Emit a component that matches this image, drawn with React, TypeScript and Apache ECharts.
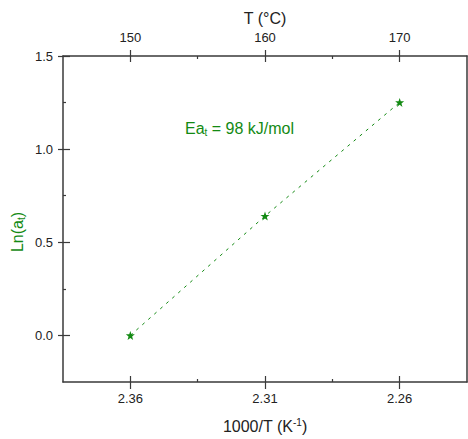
import React, { useEffect, useRef } from "react";
import * as echarts from "echarts";

const invT = [2.36, 2.31, 2.26];
const lnAt = [0.0, 0.641, 1.251];
const xTickLabels = [2.36, 2.31, 2.26];
const xMinorTicks = [2.335, 2.285];
const tTickLabels = [150, 160, 170];
const tMinorTicks = [155, 165];
const yTickLabels = [0, 0.5, 1.0, 1.5];
const yMinorTicks = [0.25, 0.75, 1.25];

const GREEN = "#138a13";
const AXIS = "#3a3a3a";
const TXT = "#222";
const FONT = "'Liberation Sans', Arial, sans-serif";
const STAR =
  "path://M0,-10 L2.35,-3.24 L9.51,-3.09 L3.8,1.24 L5.88,8.09 L0,4 L-5.88,8.09 L-3.8,1.24 L-9.51,-3.09 L-2.35,-3.24 Z";

export default function App() {
  const ref = useRef<HTMLDivElement>(null);
  useEffect(() => {
    if (!ref.current) return;
    const chart = echarts.init(ref.current, null, { renderer: "svg" });
    const xr = { min: 2.235, max: 2.385, inverse: true };
    const tr = { min: 145, max: 175 };
    const yr = { min: -0.25, max: 1.5 };
    const hidden = { show: false };
    const hiddenLine = { show: false, onZero: false };
    const lineStyle = { color: AXIS, width: 1.5 };
    const tickStyle = { color: AXIS, width: 1.2 };
    const labelBase = { color: TXT, fontSize: 13, fontFamily: FONT };
    chart.setOption({
      animation: false,
      grid: { left: 63, right: 1, top: 56, bottom: 56, containLabel: false },
      xAxis: [
        {
          type: "value",
          position: "bottom",
          ...xr,
          axisLine: { show: true, onZero: false, lineStyle },
          axisTick: { show: true, customValues: xTickLabels, length: 7, lineStyle: tickStyle },
          axisLabel: {
            customValues: xTickLabels,
            formatter: (v: number) => v.toFixed(2),
            margin: 10,
            ...labelBase,
          },
          splitLine: hidden,
          name: "1000/T (K{sup|-1})",
          nameLocation: "middle",
          nameGap: 35,
          nameTextStyle: {
            color: TXT,
            fontSize: 16,
            fontFamily: FONT,
            rich: { sup: { fontSize: 10, fontFamily: FONT, color: TXT, padding: [0, 0, 8, 0] } },
          },
        },
        {
          type: "value",
          position: "bottom",
          ...xr,
          axisLine: hiddenLine,
          axisTick: { show: true, inside: true, customValues: xTickLabels, length: 6, lineStyle: tickStyle },
          axisLabel: hidden,
          splitLine: hidden,
        },
        {
          type: "value",
          position: "bottom",
          ...xr,
          axisLine: hiddenLine,
          axisTick: { show: true, inside: true, customValues: xMinorTicks, length: 3, lineStyle: tickStyle },
          axisLabel: hidden,
          splitLine: hidden,
        },
        {
          type: "value",
          position: "top",
          ...tr,
          axisLine: { show: true, onZero: false, lineStyle },
          axisTick: { show: true, customValues: tTickLabels, length: 6, lineStyle: tickStyle },
          axisLabel: {
            customValues: tTickLabels,
            margin: 12,
            ...labelBase,
          },
          splitLine: hidden,
          name: "T (°C)",
          nameLocation: "middle",
          nameGap: 29,
          nameTextStyle: { color: TXT, fontSize: 16, fontFamily: FONT },
        },
        {
          type: "value",
          position: "top",
          ...tr,
          axisLine: hiddenLine,
          axisTick: { show: true, inside: true, customValues: tTickLabels, length: 6, lineStyle: tickStyle },
          axisLabel: hidden,
          splitLine: hidden,
        },
        {
          type: "value",
          position: "top",
          ...tr,
          axisLine: hiddenLine,
          axisTick: { show: true, inside: true, customValues: tMinorTicks, length: 3, lineStyle: tickStyle },
          axisLabel: hidden,
          splitLine: hidden,
        },
      ],
      yAxis: [
        {
          type: "value",
          position: "left",
          ...yr,
          axisLine: { show: true, onZero: false, lineStyle },
          axisTick: { show: true, customValues: yTickLabels, length: 5, lineStyle: tickStyle },
          axisLabel: {
            customValues: yTickLabels,
            formatter: (v: number) => v.toFixed(1),
            margin: 10,
            ...labelBase,
          },
          splitLine: hidden,
        },
        {
          type: "value",
          position: "left",
          ...yr,
          axisLine: hiddenLine,
          axisTick: { show: true, inside: true, customValues: yTickLabels, length: 7, lineStyle: tickStyle },
          axisLabel: hidden,
          splitLine: hidden,
        },
        {
          type: "value",
          position: "left",
          ...yr,
          axisLine: hiddenLine,
          axisTick: { show: true, inside: true, customValues: yMinorTicks, length: 3, lineStyle: tickStyle },
          axisLabel: hidden,
          splitLine: hidden,
        },
        {
          type: "value",
          position: "right",
          ...yr,
          axisLine: { show: true, onZero: false, lineStyle },
          axisTick: hidden,
          axisLabel: hidden,
          splitLine: hidden,
        },
      ],
      graphic: [
        {
          type: "text",
          x: 17,
          y: 232,
          rotation: Math.PI / 2,
          style: {
            text: "Ln(a{sub|t})",
            fill: GREEN,
            fontSize: 16,
            fontFamily: FONT,
            align: "center",
            verticalAlign: "middle",
            rich: { sub: { fontSize: 10, fontFamily: FONT, fill: GREEN, padding: [8, 0, 0, 0] } },
          },
        },
        {
          type: "text",
          x: 185,
          y: 128,
          style: {
            text: "Ea{sub|t} = 98 kJ/mol",
            fill: GREEN,
            fontSize: 16,
            fontFamily: FONT,
            align: "left",
            verticalAlign: "middle",
            rich: { sub: { fontSize: 10, fontFamily: FONT, fill: GREEN, padding: [8, 0, 0, 0] } },
          },
        },
      ],
      series: [
        {
          type: "line",
          xAxisIndex: 0,
          yAxisIndex: 0,
          data: invT.map((x, i) => [x, lnAt[i]]),
          symbol: STAR,
          symbolSize: 9,
          showSymbol: true,
          itemStyle: { color: GREEN },
          lineStyle: { color: GREEN, width: 1, type: [3, 5] },
        },
      ],
    });
    return () => chart.dispose();
  }, []);
  return (
    <div
      ref={ref}
      style={{ position: "fixed", left: 0, top: 0, width: 468, height: 439, background: "#fff" }}
    />
  );
}
